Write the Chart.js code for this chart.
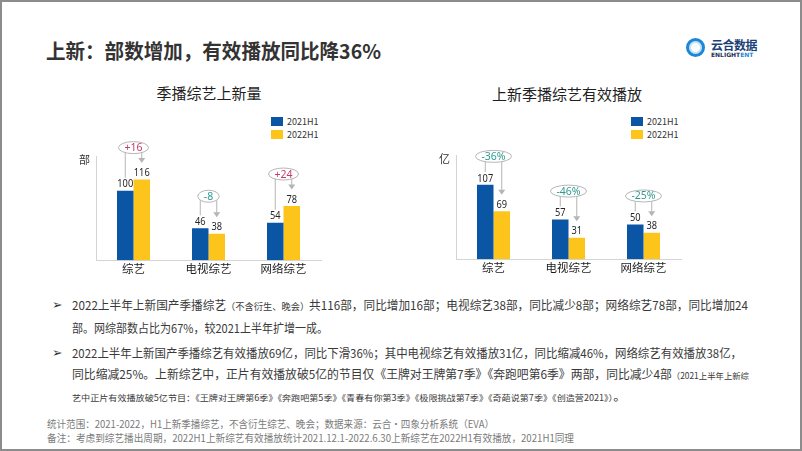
<!DOCTYPE html>
<html>
<head>
<meta charset="utf-8">
<script src="https://cdn.jsdelivr.net/npm/chart.js@4.4.0/dist/chart.umd.min.js"></script>
<style>
    html, body { margin: 0; padding: 0; }
    body {
        width: 802px; height: 451px; position: relative; overflow: hidden; background: #fff;
        font-family: "Noto Sans CJK SC", "Noto Sans", sans-serif; color: #3a3a3a;
    }
    .frame { position: absolute; left: 0; top: 0; width: 798px; height: 447px; border: 2px solid #8c8c8c; }
    .abs { position: absolute; white-space: nowrap; }
    .fit { transform-origin: 0 50%; }
    .title { left: 46px; top: 37px; font-size: 20px; font-weight: bold; color: #333; line-height: 28px; }
    .ctitle { font-size: 15px; color: #1f1f1f; line-height: 20px; transform: translateX(-50%); }
    .leg { font-size: 9px; color: #333; line-height: 10px; }
    .leg i { display: inline-block; width: 12px; height: 9px; vertical-align: -1px; margin-right: 4px; }
    .txt { left: 72px; font-size: 12px; line-height: 16px; }
    .sm { font-size: 9.5px; }
    .xs { font-size: 8.5px; }
    .bul { left: 52px; font-size: 12.5px; line-height: 16px; color: #333; font-family: "DejaVu Sans", sans-serif; }
    .note { left: 47px; font-size: 10px; line-height: 13px; color: #7a7a7a; }
    canvas { position: absolute; }
    .logo-ring { position: absolute; left: 686px; top: 38px; width: 13px; height: 13px; border-radius: 50%;
        border: 3px solid #1d86d6; box-shadow: inset 0 0 0 2px #bfe2f7; }
    .logo-cn { left: 711px; top: 38px; font-size: 12px; font-weight: bold; color: #1c3f77; line-height: 14px; letter-spacing: -0.5px; }
    .logo-en { left: 711px; top: 51px; font-size: 6px; font-weight: bold; color: #1c2f55; line-height: 7px; font-family: "DejaVu Sans", sans-serif; }
    .logo-en b { color: #1d86d6; }
</style>
</head>
<body>
<div class="frame"></div>

<div class="abs title fit" data-w="335">上新：部数增加，有效播放同比降36%</div>
<div class="logo-ring"></div>
<div class="abs logo-cn">云合数据</div>
<div class="abs logo-en">ENLIGHT<b>ENT</b></div>

<div class="abs ctitle" style="left:209px;top:83px">季播综艺上新量</div>
<div class="abs ctitle" style="left:567px;top:84px">上新季播综艺有效播放</div>

<div class="abs leg" style="left:271px;top:117px"><i style="background:#0b55a5"></i>2021H1</div>
<div class="abs leg" style="left:271px;top:130px"><i style="background:#fdc41c"></i>2022H1</div>
<div class="abs leg" style="left:631px;top:117px"><i style="background:#0b55a5"></i>2021H1</div>
<div class="abs leg" style="left:631px;top:130px"><i style="background:#fdc41c"></i>2022H1</div>

<canvas id="newShows" width="275" height="155" style="left:60px;top:130px"></canvas>
<canvas id="plays" width="275" height="155" style="left:420px;top:129px"></canvas>

<div class="abs bul" style="top:297px">➢</div>
<div class="abs txt fit" data-w="676" style="top:297px">2022上半年上新国产季播综艺<span class="sm">（不含衍生、晚会）</span>共116部，同比增加16部；电视综艺38部，同比减少8部；网络综艺78部，同比增加24</div>
<div class="abs txt fit" data-w="256" style="top:320px">部。网综部数占比为67%，较2021上半年扩增一成。</div>
<div class="abs bul" style="top:345px">➢</div>
<div class="abs txt fit" data-w="670" style="top:345px">2022上半年上新国产季播综艺有效播放69亿，同比下滑36%；其中电视综艺有效播放31亿，同比缩减46%，网络综艺有效播放38亿，</div>
<div class="abs txt fit" data-w="677" style="top:366px">同比缩减25%。上新综艺中，正片有效播放破5亿的节目仅《王牌对王牌第7季》《奔跑吧第6季》两部，同比减少4部<span class="xs">（2021上半年上新综</span></div>
<div class="abs txt fit" data-w="554" style="top:388px"><span class="xs">艺中正片有效播放破5亿节目：《王牌对王牌第6季》《奔跑吧第5季》《青春有你第3季》《极限挑战第7季》《奇葩说第7季》《创造营2021》）</span>。</div>

<div class="abs note fit" data-w="447" style="top:417px">统计范围：2021-2022，H1上新季播综艺，不含衍生综艺、晚会；数据来源：云合·四象分析系统（EVA）</div>
<div class="abs note fit" data-w="527" style="top:431px">备注：考虑到综艺播出周期，2022H1上新综艺有效播放统计2021.12.1-2022.6.30上新综艺在2022H1有效播放，2021H1同理</div>

<script>
    // data
    var categories = ['综艺', '电视综艺', '网络综艺'];
    var seriesNames = ['2021H1', '2022H1'];
    var newShows2021 = [100, 46, 54];
    var newShows2022 = [116, 38, 78];
    var newShowsChange = ['+16', '-8', '+24'];
    var plays2021 = [107, 57, 50];
    var plays2022 = [69, 31, 38];
    var playsChange = ['-36%', '-46%', '-25%'];
    var yMax = 150;

    var blue = '#0b55a5';
    var yellow = '#fdc41c';

    // squeeze text lines to the width they take on the slide
    document.querySelectorAll('.fit').forEach(function (el) {
        var w = el.getBoundingClientRect().width;
        var target = parseFloat(el.getAttribute('data-w'));
        if (w > 0) el.style.transform = 'scaleX(' + (target / w) + ')';
    });

    // value labels, unit, and the change bubbles with arrows
    var barDecor = {
        id: 'barDecor',
        afterDatasetsDraw: function (chart, args, opts) {
            var ctx = chart.ctx;
            var area = chart.chartArea;
            var m0 = chart.getDatasetMeta(0).data;
            var m1 = chart.getDatasetMeta(1).data;
            ctx.save();

            ctx.font = '11px "Noto Sans", sans-serif';
            ctx.fillStyle = '#262626';
            ctx.textAlign = 'center';
            ctx.textBaseline = 'bottom';
            chart.data.datasets.forEach(function (ds, i) {
                chart.getDatasetMeta(i).data.forEach(function (bar, j) {
                    ctx.save();
                    ctx.translate(bar.x, bar.y - 1);
                    ctx.scale(0.84, 1);
                    ctx.fillText(ds.data[j], 0, 0);
                    ctx.restore();
                });
            });

            ctx.font = '11px "Noto Sans CJK SC"';
            ctx.textAlign = 'right';
            ctx.textBaseline = 'middle';
            ctx.fillStyle = '#333';
            ctx.fillText(opts.unit, area.left - 6, area.top + 4);

            opts.changes.forEach(function (txt, j) {
                var a = m0[j], b = m1[j];
                var cy = Math.min(a.y, b.y) - opts.lift;
                var cx = (a.x + b.x) / 2;
                ctx.strokeStyle = '#b5b5b5';
                ctx.fillStyle = '#b5b5b5';
                ctx.lineWidth = 1;
                ctx.beginPath();
                ctx.moveTo(a.x, cy);
                ctx.lineTo(a.x, a.y - 13);
                ctx.moveTo(b.x, cy);
                ctx.lineTo(b.x, b.y - 21);
                ctx.stroke();
                ctx.beginPath();
                ctx.moveTo(b.x - 3.5, b.y - 21.5);
                ctx.lineTo(b.x + 3.5, b.y - 21.5);
                ctx.lineTo(b.x, b.y - 16.5);
                ctx.closePath();
                ctx.fill();

                ctx.font = '10.5px "Noto Sans", sans-serif';
                var w = ctx.measureText(txt).width;
                ctx.beginPath();
                ctx.ellipse(cx, cy, w / 2 + 6, 6, 0, 0, Math.PI * 2);
                ctx.fillStyle = '#fff';
                ctx.fill();
                ctx.stroke();
                ctx.fillStyle = txt.charAt(0) === '+' ? '#c93a64' : '#2f9a92';
                ctx.textAlign = 'center';
                ctx.textBaseline = 'middle';
                ctx.fillText(txt, cx, cy + 0.5);
            });
            ctx.restore();
        }
    };

    function makeChart(id, d1, d2, changes, unit, lift) {
        return new Chart(document.getElementById(id).getContext('2d'), {
            type: 'bar',
            data: {
                labels: categories,
                datasets: [
                    { label: seriesNames[0], data: d1, backgroundColor: blue, categoryPercentage: 0.44, barPercentage: 1 },
                    { label: seriesNames[1], data: d2, backgroundColor: yellow, categoryPercentage: 0.44, barPercentage: 1 }
                ]
            },
            options: {
                responsive: false,
                animation: false,
                events: [],
                layout: { padding: { left: 36, right: 14, top: 26, bottom: 7 } },
                plugins: {
                    legend: { display: false },
                    tooltip: { enabled: false },
                    barDecor: { changes: changes, unit: unit, lift: lift }
                },
                scales: {
                    x: {
                        grid: { display: false, drawTicks: false },
                        border: { color: '#d4d4d4' },
                        ticks: { color: '#1a1a1a', padding: 2, font: { size: 11.5, family: '"Noto Sans CJK SC"' } }
                    },
                    y: {
                        min: 0, max: yMax,
                        grid: { display: false, drawTicks: false },
                        border: { color: '#d4d4d4' },
                        ticks: { display: false }
                    }
                }
            },
            plugins: [barDecor]
        });
    }

    makeChart('newShows', newShows2021, newShows2022, newShowsChange, '部', 32);
    makeChart('plays', plays2021, plays2022, playsChange, '亿', 28.5);
</script>
</body>
</html>
